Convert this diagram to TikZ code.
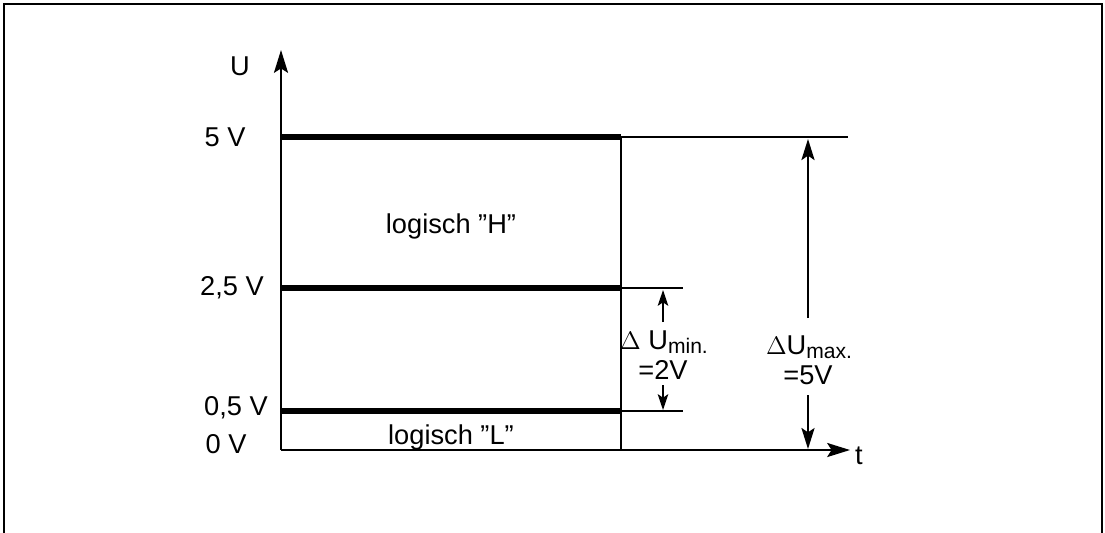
\documentclass[tikz,border=0pt]{standalone}
\usepackage{fontspec}
\setmainfont{Liberation Sans}
\usepackage{tikz}
\usetikzlibrary{arrows.meta}

\tikzset{
    level/.style={line width=3.4pt},
    thin line/.style={line width=1pt},
    axis/.style={line width=1.1pt, -{Stealth[length=13pt, width=8pt, inset=2.5pt]}},
    dim/.style={line width=1pt, -{Stealth[length=12pt, width=7.5pt, inset=2.5pt]}},
    small dim/.style={line width=1pt, -{Stealth[length=9pt, width=6pt, inset=2pt]}},
    lbl/.style={font=\fontsize{15.5}{16}\selectfont, inner sep=0pt},
}
\newcommand{\sub}[1]{\raisebox{-0.3ex}{\fontsize{12}{12}\selectfont #1}}

\begin{document}
\begin{tikzpicture}[x=0.02cm, y=-0.02cm]
                \useasboundingbox (0, 0) rectangle (1105, 532);
                % Frame
                \draw[line width=1.1pt] (4, 540) -- (4, 4) -- (1102, 4) -- (1102, 540);

                % Corner points
                \coordinate (o) at (281, 450);
                \coordinate (utop) at (281, 50);
                \coordinate (tend) at (850, 450);
                \coordinate (h1) at (281, 137);
                \coordinate (h2) at (621, 137);
                \coordinate (h3) at (848, 137);
                \coordinate (m1) at (281, 288);
                \coordinate (m2) at (621, 288);
                \coordinate (m3) at (683, 288);
                \coordinate (l1) at (281, 411);
                \coordinate (l2) at (621, 411);
                \coordinate (l3) at (683, 411);
                \coordinate (r0) at (621, 450);

                % Axes
                \draw[axis] (o) -- (utop);
                \draw[axis] (o) -- (tend);
                \node[lbl] (U) at (240, 66) {U};
                \node[lbl] (t) at (859, 456) {t};

                % Levels
                \draw[level] (h1) -- (h2);
                \draw[level] (m1) -- (m2);
                \draw[level] (l1) -- (l2);
                \draw[thin line] (h2) -- (h3);
                \draw[thin line] (m2) -- (m3);
                \draw[thin line] (l2) -- (l3);
                \draw[thin line] (h2) -- (r0);

                \node[lbl] (v5) at (225, 137) {5 V};
                \node[lbl] (v25) at (232, 288) {2,5 V};
                \node[lbl] (v05) at (236, 408) {0,5 V};
                \node[lbl] (v0) at (226, 444) {0 V};

                \node[lbl] (H) at (451, 226) {logisch ”H”};
                \node[lbl] (L) at (451, 437) {logisch ”L”};

                % Delta U min
                \node[lbl] (dmin) at (664, 342) {$\Delta$ U\sub{min.}};
                \node[lbl] (dmin v) at (663, 370) {=2V};
                \coordinate (dmin1) at (663, 322);
                \coordinate (dmin2) at (663, 290);
                \coordinate (dmin3) at (663, 385);
                \coordinate (dmin4) at (663, 410);
                \draw[small dim] (dmin1) -- (dmin2);
                \draw[small dim] (dmin3) -- (dmin4);

                % Delta U max
                \node[lbl] (dmax) at (809, 347) {$\Delta$U\sub{max.}};
                \node[lbl] (dmax v) at (808, 375) {=5V};
                \coordinate (dmax1) at (808, 318);
                \coordinate (dmax2) at (808, 139);
                \coordinate (dmax3) at (808, 395);
                \coordinate (dmax4) at (808, 449);
                \draw[dim] (dmax1) -- (dmax2);
                \draw[dim] (dmax3) -- (dmax4);
            \end{tikzpicture}
\end{document}
